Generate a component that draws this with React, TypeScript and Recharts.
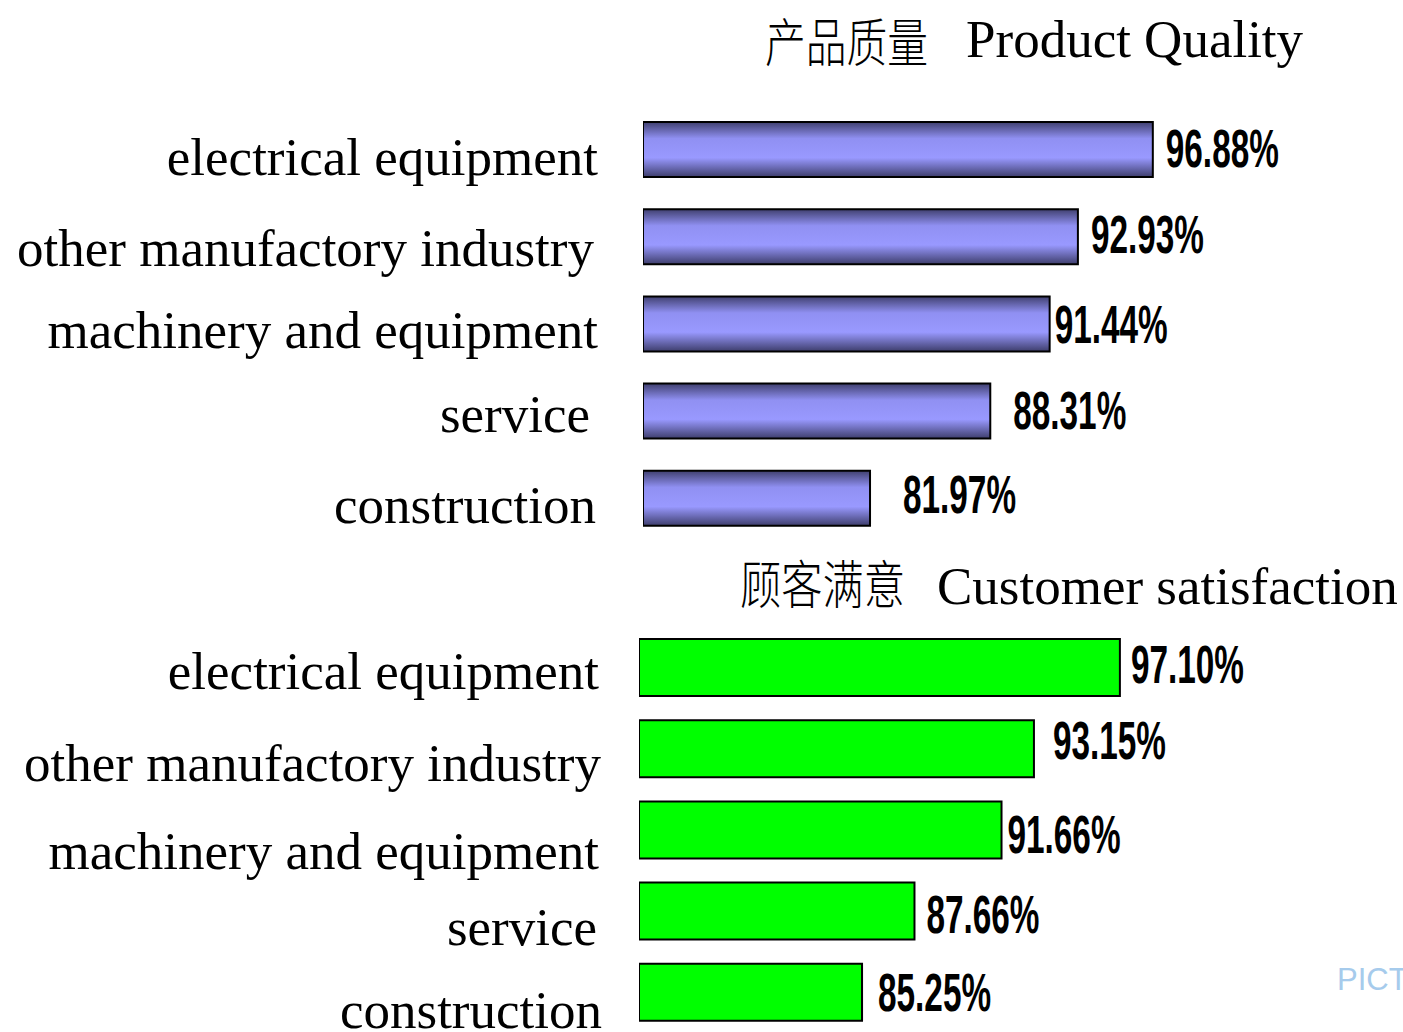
import React from 'react';
import { BarChart, Bar, XAxis, YAxis, LabelList } from 'recharts';

const categories = [
  'electrical equipment',
  'other manufactory industry',
  'machinery and equipment',
  'service',
  'construction',
];
const qualityValues = [96.88, 92.93, 91.44, 88.31, 81.97];
const satisfactionValues = [97.1, 93.15, 91.66, 87.66, 85.25];

const qualityTitleZh = '产品质量';
const qualityTitleEn = 'Product Quality';
const satisfactionTitleZh = '顾客满意';
const satisfactionTitleEn = 'Customer satisfaction';

const qualityData = categories.map((name, i) => ({ name, value: qualityValues[i] }));
const satisfactionData = categories.map((name, i) => ({ name, value: satisfactionValues[i] }));

// layout tweaks (text boxes in the original are placed individually)
const qualityTickDy = [25, 29, 24, 21, 25];
const qualityTickRight = [598, 594, 598, 590, 596];
const satisfactionTickDy = [21, 32, 39, 34, 36];
const satisfactionTickRight = [599, 601, 599, 597, 602];
const qualityLabelGap = [13, 13, 5, 23, 33];
const qualityLabelDy = [-2, -3, 0, -2, -5];
const satisfactionLabelGap = [11, 19, 6, 12, 16];
const satisfactionLabelDy = [-4, -9, 4, 2, -1];

const SERIF = '"Liberation Serif", "Times New Roman", serif';
const SANS = '"Liberation Sans", Arial, sans-serif';
const CJK = '"Noto Sans CJK SC", sans-serif';

const makeTick = (rights: number[], dys: number[]) => (props: any) => {
  const { y, payload, index } = props;
  const i = typeof index === 'number' ? index : categories.indexOf(payload.value);
  return (
    <text x={rights[i]} y={y + dys[i]} textAnchor="end" fontFamily={SERIF} fontSize={53} fill="#000">
      {payload.value}
    </text>
  );
};

const makeValueLabel = (gaps: number[], dys: number[]) => (props: any) => {
  const { x, y, width, height, value, index } = props;
  const i = typeof index === 'number' ? index : 0;
  const fs = 54;
  return (
    <text
      x={Number(x) + Number(width) + gaps[i]}
      y={Number(y) + Number(height) / 2 + fs * 0.36 + dys[i]}
      fontFamily={SANS}
      fontWeight="bold"
      fontSize={fs}
      textLength={113}
      lengthAdjust="spacingAndGlyphs"
      fill="#000"
    >
      {Number(value).toFixed(2) + '%'}
    </text>
  );
};

export default function App() {
  return (
    <div
      style={{
        position: 'absolute',
        left: 0,
        top: 0,
        width: 1403,
        height: 1032,
        overflow: 'hidden',
        background: '#fff',
      }}
    >
      <div style={{ position: 'absolute', left: 0, top: 0 }}>
        <BarChart
          width={1403}
          height={550}
          data={qualityData}
          layout="vertical"
          margin={{ top: 106, right: 191, bottom: 8, left: 0 }}
        >
          <defs>
            <linearGradient id="qualGrad" x1="0" y1="0" x2="0" y2="1">
              <stop offset="0%" stopColor="#404070" />
              <stop offset="30%" stopColor="#9090f2" />
              <stop offset="65%" stopColor="#9999ff" />
              <stop offset="100%" stopColor="#3e3e6c" />
            </linearGradient>
          </defs>
          <XAxis type="number" domain={[70, 100]} hide allowDataOverflow />
          <YAxis
            type="category"
            dataKey="name"
            width={643}
            axisLine={false}
            tickLine={false}
            tick={makeTick(qualityTickRight, qualityTickDy)}
          />
          <Bar dataKey="value" fill="url(#qualGrad)" stroke="#000" strokeWidth={2} barSize={55} isAnimationActive={false}>
            <LabelList dataKey="value" content={makeValueLabel(qualityLabelGap, qualityLabelDy)} />
          </Bar>
        </BarChart>
      </div>
      <div style={{ position: 'absolute', left: 0, top: 560 }}>
        <BarChart
          width={1403}
          height={480}
          data={satisfactionData}
          layout="vertical"
          margin={{ top: 67, right: 220, bottom: 7, left: 0 }}
        >
          <XAxis type="number" domain={[75, 100]} hide allowDataOverflow />
          <YAxis
            type="category"
            dataKey="name"
            width={639}
            axisLine={false}
            tickLine={false}
            tick={makeTick(satisfactionTickRight, satisfactionTickDy)}
          />
          <Bar dataKey="value" fill="#00ff00" stroke="#000" strokeWidth={2} barSize={57} isAnimationActive={false}>
            <LabelList dataKey="value" content={makeValueLabel(satisfactionLabelGap, satisfactionLabelDy)} />
          </Bar>
        </BarChart>
      </div>
      <svg
        width={1403}
        height={1032}
        style={{ position: 'absolute', left: 0, top: 0, pointerEvents: 'none' }}
      >
        <text x={765} y={62} fontFamily={CJK} fontWeight={300} fontSize={52} textLength={163} lengthAdjust="spacingAndGlyphs" fill="#000">
          {qualityTitleZh}
        </text>
        <text x={966} y={57} fontFamily={SERIF} fontSize={53} fill="#000">
          {qualityTitleEn}
        </text>
        <text x={740} y={604} fontFamily={CJK} fontWeight={300} fontSize={52} textLength={165} lengthAdjust="spacingAndGlyphs" fill="#000">
          {satisfactionTitleZh}
        </text>
        <text x={937} y={604} fontFamily={SERIF} fontSize={53} fill="#000">
          {satisfactionTitleEn}
        </text>
        <text x={1337} y={990} fontFamily={SANS} fontSize={31} fill="#a6cbec">
          PICT
        </text>
      </svg>
    </div>
  );
}
